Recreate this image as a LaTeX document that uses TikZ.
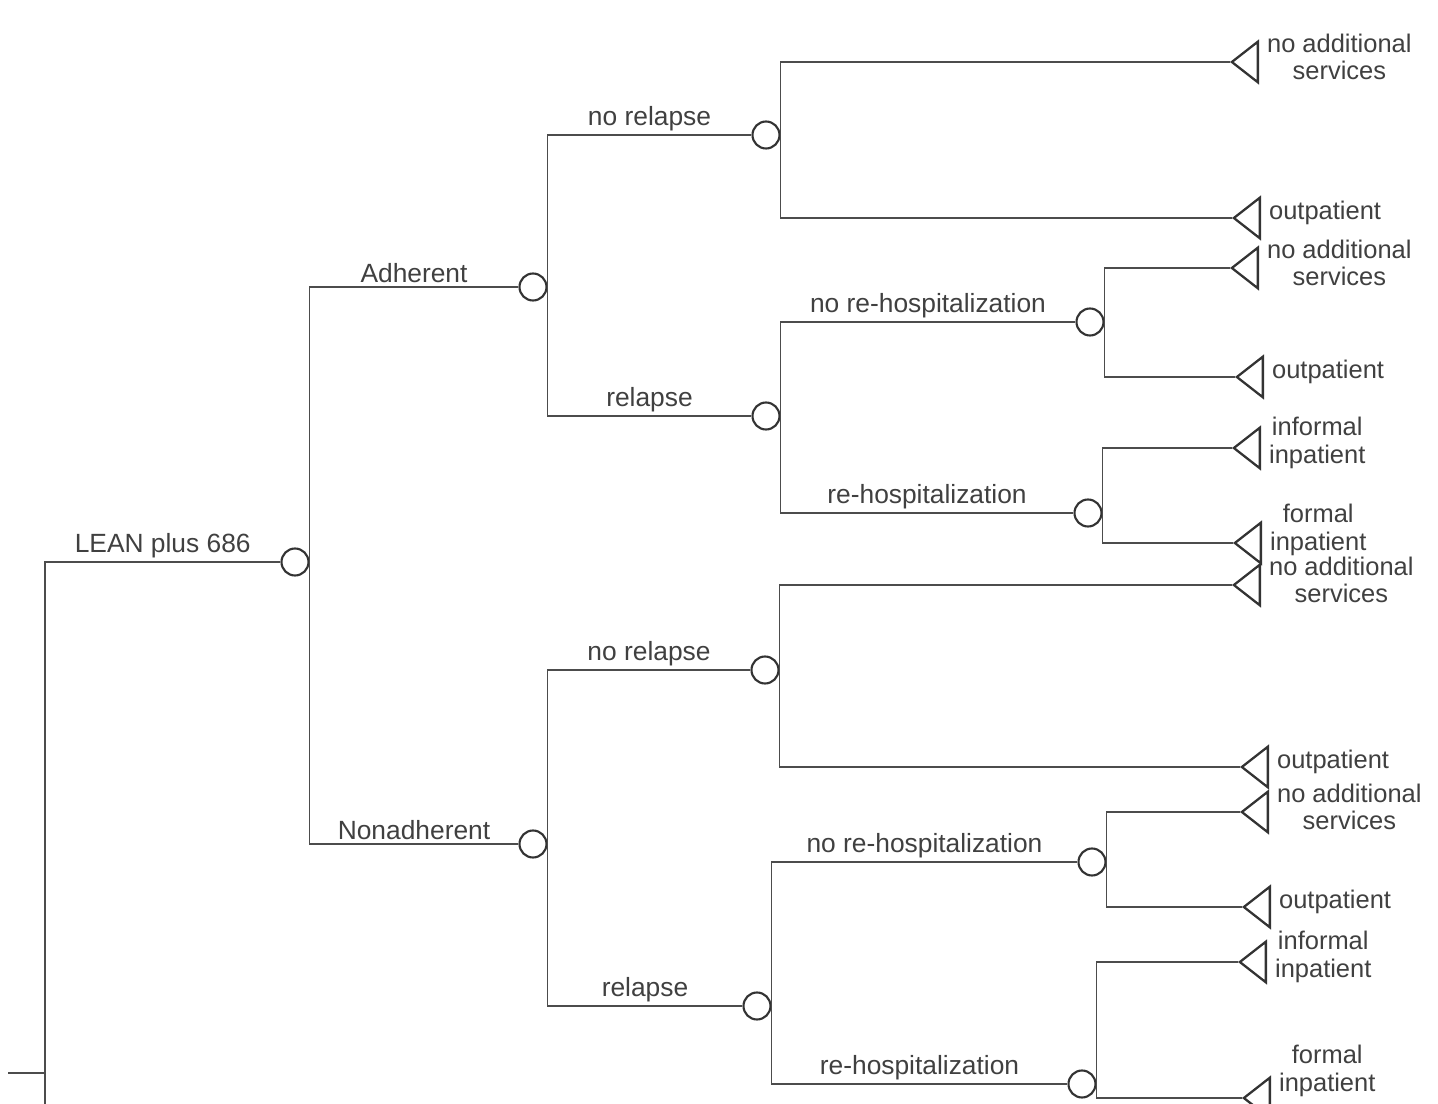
\documentclass[tikz,border=0pt]{standalone}
\usepackage{fontspec}
\setmainfont{Liberation Sans}
\usetikzlibrary{positioning,shapes.geometric}

\begin{document}
\begin{tikzpicture}[x=0.02cm, y=-0.02cm,
  pencil/.style={draw=black!70, line width=0.8pt},
  chance/.style={circle, draw=black!80, line width=1.2pt, minimum size=0.54cm, inner sep=0pt},
  term/.style={isosceles triangle, isosceles triangle apex angle=76, shape border rotate=180, draw=black!80, line width=1.3pt, minimum height=0.52cm, inner sep=0pt, anchor=apex},
  branch/.style={font=\fontsize{15}{17}\selectfont, text=black!75, inner sep=2pt},
  outcome/.style={font=\fontsize{14.5}{15.5}\selectfont, text=black!75, align=center, inner sep=1pt, yshift=0.1cm}
]
\useasboundingbox (0,0) rectangle (1438,1104);

\node[chance] (lean) at (295,562) {};
\node[chance] (adh) at (533,287) {};
\node[chance] (non) at (533,844) {};
\node[chance] (anr) at (766,135) {};
\node[chance] (ar) at (766,416) {};
\node[chance] (anrh) at (1090,322) {};
\node[chance] (arh) at (1088,513) {};
\node[chance] (nnr) at (765,670) {};
\node[chance] (nr) at (757,1006) {};
\node[chance] (nnrh) at (1092,862) {};
\node[chance] (nrh) at (1082,1084) {};

\node[term] (ta1) at (1230,62) {};
\node[term] (ta2) at (1232,218) {};
\node[term] (ta3) at (1230,268) {};
\node[term] (ta4) at (1235,377) {};
\node[term] (ta5) at (1232,448) {};
\node[term] (ta6) at (1233,543) {};
\node[term] (tn1) at (1232,585) {};
\node[term] (tn2) at (1240,767) {};
\node[term] (tn3) at (1240,812) {};
\node[term] (tn4) at (1242,907) {};
\node[term] (tn5) at (1238,962) {};
\node[term] (tn6) at (1242,1098) {};

\node[outcome, right=0.12cm of ta1] (oa1) {no additional\\services};
\node[outcome, right=0.12cm of ta2] (oa2) {outpatient};
\node[outcome, right=0.12cm of ta3] (oa3) {no additional\\services};
\node[outcome, right=0.12cm of ta4] (oa4) {outpatient};
\node[outcome, right=0.12cm of ta5] (oa5) {informal\\inpatient};
\node[outcome, right=0.12cm of ta6, yshift=0.16cm] (oa6) {formal\\inpatient};
\node[outcome, right=0.12cm of tn1] (on1) {no additional\\services};
\node[outcome, right=0.12cm of tn2] (on2) {outpatient};
\node[outcome, right=0.12cm of tn3] (on3) {no additional\\services};
\node[outcome, right=0.12cm of tn4] (on4) {outpatient};
\node[outcome, right=0.12cm of tn5] (on5) {informal\\inpatient};
\node[outcome, right=0.12cm of tn6, yshift=0.44cm] (on6) {formal\\inpatient};

\coordinate (rootbot) at (45,1104);
\coordinate (stub) at (8,1073);
\draw[pencil] (stub) -- (stub -| rootbot);
\draw[pencil] (rootbot) |- node[branch, above, pos=0.75] (lLean) {LEAN plus 686} (lean.west);

\draw[pencil] (adh.west) -| node[branch, above, pos=0.25] (lAdh) {Adherent} (lean.east) |- node[branch, above, pos=0.75] (lNon) {Nonadherent} (non.west);

\draw[pencil] (anr.west) -| node[branch, above, pos=0.25] (lAnr) {no relapse} (adh.east) |- node[branch, above, pos=0.75] (lAr) {relapse} (ar.west);
\draw[pencil] (ta1.apex) -| (anr.east) |- (ta2.apex);
\draw[pencil] (anrh.west) -| node[branch, above, pos=0.25] (lAnrh) {no re-hospitalization} (ar.east) |- node[branch, above, pos=0.75] (lArh) {re-hospitalization} (arh.west);
\draw[pencil] (ta3.apex) -| (anrh.east) |- (ta4.apex);
\draw[pencil] (ta5.apex) -| (arh.east) |- (ta6.apex);

\draw[pencil] (nnr.west) -| node[branch, above, pos=0.25] (lNnr) {no relapse} (non.east) |- node[branch, above, pos=0.75] (lNr) {relapse} (nr.west);
\draw[pencil] (tn1.apex) -| (nnr.east) |- (tn2.apex);
\draw[pencil] (nnrh.west) -| node[branch, above, pos=0.25] (lNnrh) {no re-hospitalization} (nr.east) |- node[branch, above, pos=0.75] (lNrh) {re-hospitalization} (nrh.west);
\draw[pencil] (tn3.apex) -| (nnrh.east) |- (tn4.apex);
\draw[pencil] (tn5.apex) -| (nrh.east) |- (tn6.apex);
\end{tikzpicture}
\end{document}
